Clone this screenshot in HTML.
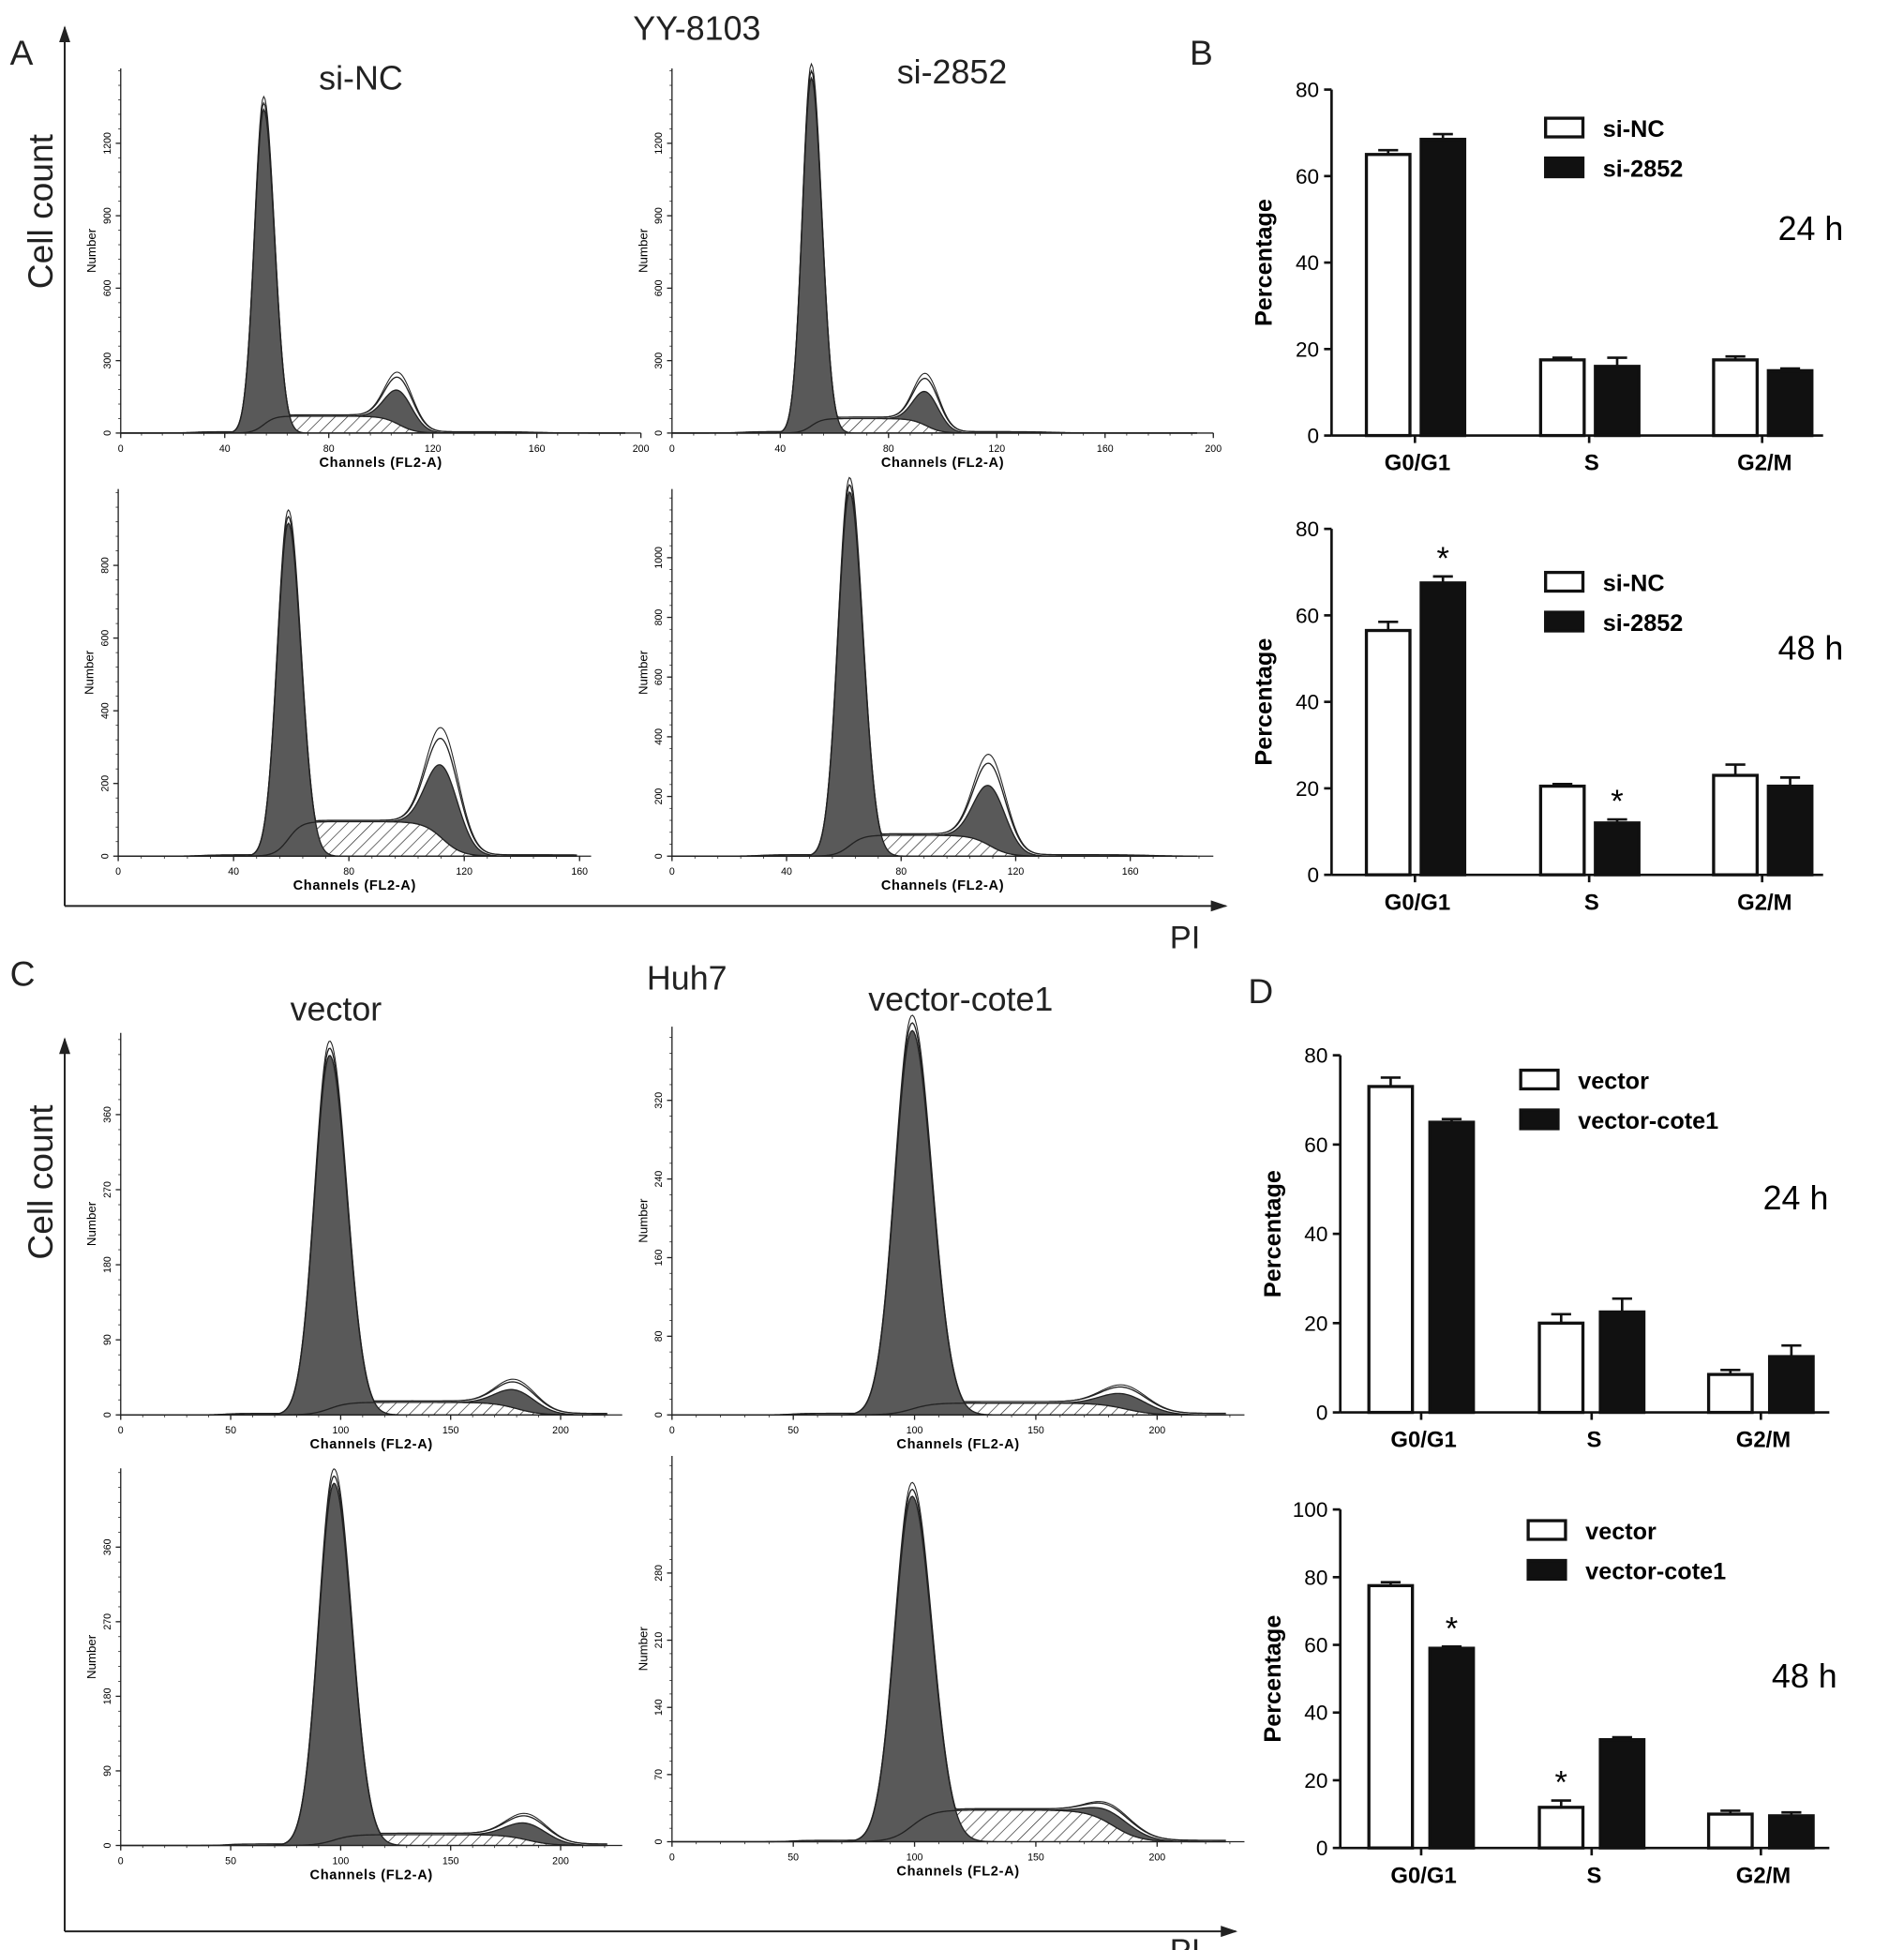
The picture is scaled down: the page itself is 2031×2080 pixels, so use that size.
<!DOCTYPE html>
<html><head><meta charset="utf-8">
<style>
html,body{margin:0;padding:0;background:#fff;}
svg{display:block;}
text{font-family:"Liberation Sans",Arial,sans-serif;}
</style></head>
<body>
<svg id="fig" xmlns="http://www.w3.org/2000/svg" width="2031" height="2080" viewBox="0 0 1530 1567" preserveAspectRatio="none">
<defs>
<pattern id="hatch" patternUnits="userSpaceOnUse" width="7" height="7" patternTransform="rotate(45)">
<rect width="7" height="7" fill="#fff"/><line x1="0" y1="0" x2="0" y2="7" stroke="#222" stroke-width="1"/>
</pattern>
<marker id="arr" markerWidth="10" markerHeight="10" refX="8" refY="5" orient="auto"><path d="M0,2 L9,5 L0,8 Z" fill="#222"/></marker>
</defs>
<rect width="1530" height="1567" fill="#fff"/>
<g id="static" font-size="28" fill="#222">
<text x="8" y="52">A</text>
<text x="956" y="52">B</text>
<text x="8" y="792">C</text>
<text x="1003" y="806">D</text>
<text x="560" y="32" text-anchor="middle" font-size="27">YY-8103</text>
<text x="290" y="72" text-anchor="middle" font-size="27">si-NC</text>
<text x="765" y="67" text-anchor="middle" font-size="27">si-2852</text>
<text x="552" y="795" text-anchor="middle" font-size="27">Huh7</text>
<text x="270" y="820" text-anchor="middle" font-size="27">vector</text>
<text x="772" y="812" text-anchor="middle" font-size="27">vector-cote1</text>
<text transform="translate(42,170) rotate(-90)" text-anchor="middle" font-size="28">Cell count</text>
<text transform="translate(42,950) rotate(-90)" text-anchor="middle" font-size="28">Cell count</text>
<text x="940" y="762" font-size="26">PI</text>
<text x="940" y="1576" font-size="26">PI</text>
<line x1="52" y1="728" x2="52" y2="22" stroke="#222" stroke-width="1.5" marker-end="url(#arr)"/>
<line x1="52" y1="728" x2="985" y2="728" stroke="#222" stroke-width="1.5" marker-end="url(#arr)"/>
<line x1="52" y1="1552" x2="52" y2="835" stroke="#222" stroke-width="1.5" marker-end="url(#arr)"/>
<line x1="52" y1="1552" x2="993" y2="1552" stroke="#222" stroke-width="1.5" marker-end="url(#arr)"/>
</g>
<g id="hists"></g>
<g id="bars"></g>
</svg>
<script>
const NS="http://www.w3.org/2000/svg";
// ---- histogram data (one entry per histogram) ----
const histNames=["a-top-si-nc","a-top-si-2852","a-bottom-si-nc","a-bottom-si-2852","c-top-vector","c-top-vector-cote1","c-bottom-vector","c-bottom-vector-cote1"];
const peakG1Channel=[55,51.5,59,62,95,99,97,99];
const peakG1Height=[1340,1470,916,1220,431,391,437,360];
const peakG2Channel=[107,94,112.5,111,180,187,185,182];
const peakG2Height=[140,140,200,200,22,15,20,13];
const sPhaseHeight=[70,60,95,70,15,12,13,33];
const xTickLabels=[[0,40,80,120,160,200],[0,40,80,120,160,200],[0,40,80,120,160],[0,40,80,120,160],[0,50,100,150,200],[0,50,100,150,200],[0,50,100,150,200],[0,50,100,150,200]];
const yTickLabels=[[0,300,600,900,1200],[0,300,600,900,1200],[0,200,400,600,800],[0,200,400,600,800,1000],[0,90,180,270,360],[0,80,160,240,320],[0,90,180,270,360],[0,70,140,210,280]];
const peakWidthFrac=[0.065,0.065,0.065,0.065,0.072,0.072,0.072,0.072];
// layout (pixels) per histogram
const histBox=[
 {x0:97,x1:515,cMax:200,yb:348,yt:55,nMax:1510},
 {x0:540,x1:975,cMax:200,yb:348,yt:55,nMax:1510},
 {x0:95,x1:475,cMax:164,yb:688,yt:393,nMax:1010},
 {x0:540,x1:975,cMax:189,yb:688,yt:393,nMax:1230},
 {x0:97,x1:500,cMax:228,yb:1137,yt:830,nMax:458},
 {x0:540,x1:1000,cMax:236,yb:1137,yt:825,nMax:395},
 {x0:97,x1:500,cMax:228,yb:1483,yt:1180,nMax:455},
 {x0:540,x1:1000,cMax:236,yb:1480,yt:1170,nMax:402}];
const hg=document.getElementById('hists');
function mk(tag,attrs,parent){const e=document.createElementNS(NS,tag);for(const k in attrs)e.setAttribute(k,attrs[k]);(parent||hg).appendChild(e);return e;}
function sig(z){return 1/(1+Math.exp(-z));}
histNames.forEach((nm,i)=>{
 const b=histBox[i];
 const g=mk('g',{});
 
 
 const X=c=>b.x0+(b.x1-b.x0)*c/b.cMax;
 const Y=n=>b.yb-(b.yb-b.yt)*n/b.nMax;
 const g1=peakG1Channel[i],h1=peakG1Height[i],g2=peakG2Channel[i],h2=peakG2Height[i],sh=sPhaseHeight[i];
 const sd1=g1*peakWidthFrac[i],sd2=g2*0.05;
 const G1=c=>{const s=c>g1?sd1*1.15:sd1;return h1*Math.exp(-0.5*((c-g1)/s)**2);};
 const G2=c=>h2*Math.exp(-0.5*((c-g2)/sd2)**2);
 const S=c=>sh*sig((c-g1)/(sd1*0.6))*sig((g2-c)/(sd2*0.6));
 const step=b.cMax/400;
 let pS=`M${X(0)},${b.yb}`,pG1=pS,pG2='',pO='',pO2='';
 const cs=[];for(let c=0;c<=b.cMax*0.97;c+=step)cs.push(c);
 cs.forEach(c=>{pS+=` L${X(c)},${Y(S(c))}`;pG1+=` L${X(c)},${Y(G1(c))}`;});
 pS+=` L${X(cs[cs.length-1])},${b.yb} Z`;pG1+=` L${X(cs[cs.length-1])},${b.yb} Z`;
 let top='',bot='';
 cs.forEach(c=>{top+=(top?' L':'M')+X(c)+','+Y(S(c)+G2(c));});
 for(let k=cs.length-1;k>=0;k--){bot+=' L'+X(cs[k])+','+Y(S(cs[k]));}
 pG2=top+bot+' Z';
 cs.forEach(c=>{const tail=h1*0.004*sig((c-g1*0.5)/3)*sig((g2*1.5-c)/5);
  const v=Math.max(G1(c)*1.02,S(c)+G2(c)*1.35+tail);pO+=(pO?' L':'M')+X(c)+','+Y(v);
  const v2=Math.max(G1(c)*1.04,S(c)+G2(c)*1.5+tail);pO2+=(pO2?' L':'M')+X(c)+','+Y(v2);});
 const sP=mk('path',{d:pS,fill:'url(#hatch)',stroke:'#222','stroke-width':0.8},g);
 
 const p1=mk('path',{d:pG1,fill:'#595959',stroke:'#222','stroke-width':1},g);
 
 const p2=mk('path',{d:pG2,fill:'#595959',stroke:'#222','stroke-width':1},g);
 
 const o=mk('path',{d:pO,fill:'none',stroke:'#222','stroke-width':1},g);
 
 mk('path',{d:pO2,fill:'none',stroke:'#222','stroke-width':0.8},g);
 const ax=mk('line',{x1:b.x0,y1:b.yb,x2:b.x1,y2:b.yb,stroke:'#222','stroke-width':1},g);
 
 const ay=mk('line',{x1:b.x0,y1:b.yb,x2:b.x0,y2:b.yt,stroke:'#222','stroke-width':1},g);
 
 xTickLabels[i].forEach(t=>{mk('line',{x1:X(t),y1:b.yb,x2:X(t),y2:b.yb+4,stroke:'#222'},g);
  const tx=mk('text',{x:X(t),y:b.yb+15,'text-anchor':'middle','font-size':8},g);tx.textContent=t;
  });
 for(let c=0;c<=b.cMax;c+=(xTickLabels[i][1])/5)mk('line',{x1:X(c),y1:b.yb,x2:X(c),y2:b.yb+2,stroke:'#222','stroke-width':0.6},g);
 yTickLabels[i].forEach(t=>{mk('line',{x1:b.x0-4,y1:Y(t),x2:b.x0,y2:Y(t),stroke:'#222'},g);
  const tx=mk('text',{transform:`translate(${b.x0-8},${Y(t)}) rotate(-90)`,'text-anchor':'middle','font-size':8},g);tx.textContent=t;
  });
 for(let n=0;n<=b.nMax;n+=yTickLabels[i][1]/5)mk('line',{x1:b.x0-2,y1:Y(n),x2:b.x0,y2:Y(n),stroke:'#222','stroke-width':0.6},g);
 const xl=mk('text',{x:X(b.cMax*0.5),y:b.yb+27,'text-anchor':'middle','font-size':11,'font-weight':'bold','letter-spacing':'0.5'},g);
 xl.textContent='Channels (FL2-A)';
 const yl=mk('text',{transform:`translate(${b.x0-20},${(b.yb+b.yt)/2}) rotate(-90)`,'text-anchor':'middle','font-size':10},g);
 yl.textContent='Number';
});

// ---- bar chart data ----
const barCategories=["G0/G1","S","G2/M"];
const b24White=[65,17.5,17.5], b24Black=[68.5,16,15];
const b24WhiteErr=[1,0.5,0.8], b24BlackErr=[1.2,2,0.5];
const b48White=[56.5,20.5,23], b48Black=[67.5,12,20.5];
const b48WhiteErr=[2,0.5,2.5], b48BlackErr=[1.5,0.8,2];
const d24White=[73,20,8.5], d24Black=[65,22.5,12.5];
const d24WhiteErr=[2,2,1], d24BlackErr=[0.7,3,2.5];
const d48White=[77.5,12,10], d48Black=[59,32,9.5];
const d48WhiteErr=[1,2,1], d48BlackErr=[0.5,0.7,1];
const b48Stars=[[false,true],[false,true],[false,false]];
const d48Stars=[[false,true],[true,false],[false,false]];
const yTicks80=[0,20,40,60,80], yTicks100=[0,20,40,60,80,100];
const legendB=["si-NC","si-2852"], legendD=["vector","vector-cote1"];
const bg=document.getElementById('bars');
const charts=[
 {name:'b-24h',white:b24White,black:b24Black,we:b24WhiteErr,be:b24BlackErr,stars:null,ticks:yTicks80,leg:legendB,time:'24 h',
  ax:1070,axEnd:1465,y0:350,yTop:72,yMax:80,centers:[1137,1277,1416],wOff:-39,bOff:5,bw:35,legX:1242,legY:95,timeX:1455,timeY:193},
 {name:'b-48h',white:b48White,black:b48Black,we:b48WhiteErr,be:b48BlackErr,stars:b48Stars,ticks:yTicks80,leg:legendB,time:'48 h',
  ax:1070,axEnd:1465,y0:703,yTop:425,yMax:80,centers:[1137,1277,1416],wOff:-39,bOff:5,bw:35,legX:1242,legY:460,timeX:1455,timeY:530},
 {name:'d-24h',white:d24White,black:d24Black,we:d24WhiteErr,be:d24BlackErr,stars:null,ticks:yTicks80,leg:legendD,time:'24 h',
  ax:1077,axEnd:1470,y0:1135,yTop:848,yMax:80,centers:[1142,1279,1415],wOff:-42,bOff:7,bw:35,legX:1222,legY:860,timeX:1443,timeY:972},
 {name:'d-48h',white:d48White,black:d48Black,we:d48WhiteErr,be:d48BlackErr,stars:d48Stars,ticks:yTicks100,leg:legendD,time:'48 h',
  ax:1077,axEnd:1470,y0:1485,yTop:1213,yMax:100,centers:[1142,1279,1415],wOff:-42,bOff:7,bw:35,legX:1228,legY:1222,timeX:1450,timeY:1356}];
charts.forEach(c=>{
 const g=mk('g',{},bg);
 
 
 const Y=v=>c.y0-(c.y0-c.yTop)*v/c.yMax;
 const ay=mk('line',{x1:c.ax,y1:c.y0,x2:c.ax,y2:c.yTop,stroke:'#111','stroke-width':2},g);
 
 const axl=mk('line',{x1:c.ax,y1:c.y0,x2:c.axEnd,y2:c.y0,stroke:'#111','stroke-width':2},g);
 
 c.ticks.forEach(t=>{mk('line',{x1:c.ax-6,y1:Y(t),x2:c.ax,y2:Y(t),stroke:'#111','stroke-width':2},g);
  const tx=mk('text',{x:c.ax-10,y:Y(t)+6,'text-anchor':'end','font-size':17},g);tx.textContent=t;
  });
 const yl=mk('text',{transform:`translate(${c.ax-48},${(c.y0+c.yTop)/2}) rotate(-90)`,'text-anchor':'middle','font-size':19,'font-weight':'bold'},g);
 yl.textContent='Percentage';
 barCategories.forEach((cat,k)=>{
  const cx=c.centers[k];
  mk('line',{x1:cx,y1:c.y0,x2:cx,y2:c.y0+6,stroke:'#111','stroke-width':2},g);
  const ct=mk('text',{x:cx+2,y:c.y0+28,'text-anchor':'middle','font-size':18,'font-weight':'bold'},g);ct.textContent=cat;
  
  [[c.white,c.we,c.wOff,'#fff',0],[c.black,c.be,c.bOff,'#111',1]].forEach(([vals,errs,off,fill,s])=>{
   const x=cx+off,v=vals[k],e=errs[k];
   const el=mk('line',{x1:x+c.bw/2,y1:Y(v),x2:x+c.bw/2,y2:Y(v+e),stroke:'#111','stroke-width':2},g);
   mk('line',{x1:x+c.bw/2-8,y1:Y(v+e),x2:x+c.bw/2+8,y2:Y(v+e),stroke:'#111','stroke-width':2},g);
   
   const r=mk('rect',{x:x,y:Y(v),width:c.bw,height:c.y0-Y(v),fill:fill,stroke:'#111','stroke-width':2.5},g);
   
   
   if(c.stars&&c.stars[k][s]){const st=mk('text',{x:x+c.bw/2,y:Y(v+e)-6,'text-anchor':'middle','font-size':26},g);st.textContent='*';
    }
  });
 });
 c.leg.forEach((lab,j)=>{
  const ly=c.legY+j*32;
  const r=mk('rect',{x:c.legX,y:ly,width:30,height:15,fill:j?'#111':'#fff',stroke:'#111','stroke-width':2.5},g);
  
  const t=mk('text',{x:c.legX+46,y:ly+15,'font-size':19,'font-weight':'bold'},g);t.textContent=lab;
  
 });
 const tt=mk('text',{x:c.timeX,y:c.timeY,'text-anchor':'middle','font-size':27},g);tt.textContent=c.time;
 
});
</script>
</body></html>
